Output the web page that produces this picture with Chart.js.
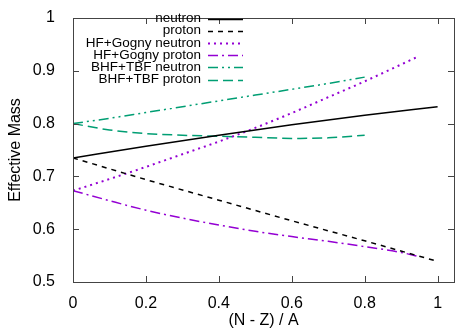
<!DOCTYPE html>
<html>
<head>
<meta charset="utf-8">
<script src="https://cdn.jsdelivr.net/npm/chart.js@4"></script>
<style>
  body { margin: 0; background: #fff; }
  canvas { display: block; }
</style>
</head>
<body>
<canvas id="massChart" width="457" height="334"></canvas>
<script>
// asymmetry (N - Z) / A and effective masses
const betaFull = [0, 0.2, 0.4, 0.6, 0.8, 1.0];
const neutronMass = [0.735, 0.757, 0.778, 0.798, 0.816, 0.832];
const protonMass = [0.735, 0.694, 0.655, 0.616, 0.578, 0.539];

const betaGogny = [0, 0.1, 0.2, 0.3, 0.4, 0.5, 0.6, 0.7, 0.8, 0.9, 0.95];
const gognyNeutron = [0.673, 0.695, 0.718, 0.742, 0.766, 0.792, 0.820, 0.850, 0.880, 0.912, 0.928];
const gognyProton = [0.673, 0.654, 0.636, 0.621, 0.608, 0.596, 0.586, 0.577, 0.567, 0.556, 0.548];

const betaBhf = [0, 0.1, 0.2, 0.3, 0.4, 0.5, 0.6, 0.7, 0.8];
const bhfNeutron = [0.800, 0.810, 0.821, 0.832, 0.843, 0.854, 0.865, 0.876, 0.888];
const bhfProton = [0.800, 0.788, 0.781, 0.778, 0.776, 0.774, 0.772, 0.773, 0.778];

const xTicks = [0, 0.2, 0.4, 0.6, 0.8, 1];
const yTicks = [0.5, 0.6, 0.7, 0.8, 0.9, 1];

const FONT = "'Liberation Sans', Arial, Helvetica, sans-serif";

function pts(xs, ys) {
  return xs.map((x, i) => ({ x: x, y: ys[i] }));
}

function series(label, xs, ys, color, dash, width) {
  return {
    label: label,
    data: pts(xs, ys),
    borderColor: color,
    backgroundColor: color,
    borderDash: dash,
    borderWidth: width,
    pointRadius: 0,
    fill: false,
    cubicInterpolationMode: 'monotone'
  };
}

// gnuplot style frame: box + inward ticks on all sides
const framePlugin = {
  id: 'frame',
  afterDatasetsDraw(chart) {
    const ctx = chart.ctx;
    const a = chart.chartArea;
    const xs = chart.scales.x, ys = chart.scales.y;
    const len = 6;
    ctx.save();
    ctx.strokeStyle = '#444';
    ctx.lineWidth = 1;
    ctx.beginPath();
    xTicks.forEach(v => {
      const px = Math.round(xs.getPixelForValue(v)) + 0.5;
      ctx.moveTo(px, a.bottom); ctx.lineTo(px, a.bottom - len);
      ctx.moveTo(px, a.top); ctx.lineTo(px, a.top + len);
    });
    yTicks.forEach(v => {
      const py = Math.round(ys.getPixelForValue(v)) + 0.5;
      ctx.moveTo(a.left, py); ctx.lineTo(a.left + len, py);
      ctx.moveTo(a.right, py); ctx.lineTo(a.right - len, py);
    });
    ctx.stroke();
    ctx.strokeRect(Math.round(a.left) + 0.5, Math.round(a.top) + 0.5,
      Math.round(a.right - a.left), Math.round(a.bottom - a.top));
    ctx.restore();
  }
};

// legend: text right aligned, line sample on the right
const keyPlugin = {
  id: 'key',
  afterDraw(chart) {
    const ctx = chart.ctx;
    const textRight = 201, lineStart = 208, lineEnd = 243;
    const top = 18.5, step = 12.2;
    ctx.save();
    ctx.font = '13.5px ' + FONT;
    ctx.textAlign = 'right';
    ctx.textBaseline = 'middle';
    chart.data.datasets.forEach((ds, i) => {
      const y = top + i * step;
      ctx.fillStyle = '#000';
      ctx.fillText(ds.label, textRight, y);
      ctx.strokeStyle = ds.borderColor;
      ctx.lineWidth = ds.borderWidth;
      ctx.setLineDash(ds.borderDash);
      ctx.beginPath();
      ctx.moveTo(lineStart, Math.round(y) + 0.5);
      ctx.lineTo(lineEnd, Math.round(y) + 0.5);
      ctx.stroke();
    });
    ctx.restore();
  }
};

const purple = '#9400d3';
const green = '#009e73';

new Chart(document.getElementById('massChart'), {
  type: 'line',
  data: {
    datasets: [
      series('neutron', betaFull, neutronMass, '#000', [], 1.5),
      series('proton', betaFull, protonMass, '#000', [5, 5], 1.5),
      series('HF+Gogny neutron', betaGogny, gognyNeutron, purple, [2, 4], 2),
      series('HF+Gogny proton', betaGogny, gognyProton, purple, [10, 4, 2, 4], 1.5),
      series('BHF+TBF neutron', betaBhf, bhfNeutron, green, [10, 4, 2, 4, 2, 4], 1.5),
      series('BHF+TBF proton', betaBhf, bhfProton, green, [10, 5], 1.5)
    ]
  },
  options: {
    responsive: false,
    animation: false,
    layout: { padding: { top: 8, right: 3, left: 0, bottom: 0 } },
    plugins: {
      legend: { display: false },
      tooltip: { enabled: false }
    },
    scales: {
      x: {
        type: 'linear',
        min: 0,
        max: 1.045,
        grid: { display: false },
        border: { display: false },
        afterBuildTicks: s => { s.ticks = xTicks.map(v => ({ value: v })); },
        afterFit: s => { s.height = 52; },
        ticks: {
          color: '#000',
          padding: 6,
          maxRotation: 0,
          font: { family: FONT, size: 16, lineHeight: 1 },
          callback: v => String(v)
        },
        title: {
          display: true,
          text: '(N - Z) / A',
          color: '#000',
          font: { family: FONT, size: 16 },
          padding: { top: 0, bottom: 4 }
        }
      },
      y: {
        min: 0.5,
        max: 1,
        grid: { display: false },
        border: { display: false },
        afterBuildTicks: s => { s.ticks = yTicks.map(v => ({ value: v })); },
        afterFit: s => { s.width = 73; },
        ticks: {
          color: '#000',
          padding: 10,
          font: { family: FONT, size: 16, lineHeight: 1 },
          callback: v => String(v)
        },
        title: {
          display: true,
          text: 'Effective Mass',
          color: '#000',
          font: { family: FONT, size: 16 },
          padding: { top: 6, bottom: 0 }
        }
      }
    }
  },
  plugins: [framePlugin, keyPlugin]
});
</script>
</body>
</html>
